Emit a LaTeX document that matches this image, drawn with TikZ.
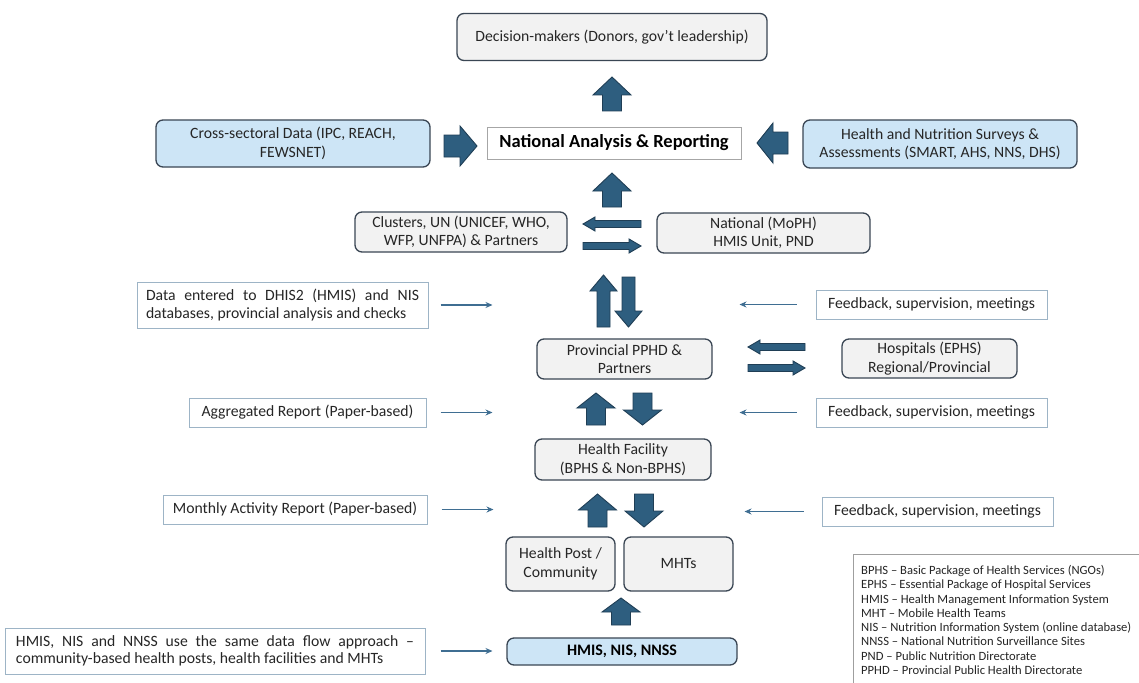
\documentclass[tikz,border=0pt]{standalone}
\usepackage{fontspec}
\setmainfont{Carlito}
\usetikzlibrary{arrows.meta}
\definecolor{bdr}{HTML}{3A4654}
\definecolor{gfill}{HTML}{F2F2F2}
\definecolor{bfill}{HTML}{CDE5F6}
\definecolor{afill}{HTML}{2E5E7F}
\definecolor{aline}{HTML}{1F3E55}
\definecolor{nline}{HTML}{9DB4C6}
\definecolor{tarr}{HTML}{3F6E92}
\definecolor{txt}{HTML}{262626}
\newcommand{\blkV}[6]{\path[blockarrow] ({#1-#6/2},#2) -- ({#1-#6/2},#3) -- ({#1-#5/2},#3) -- (#1,#4) -- ({#1+#5/2},#3) -- ({#1+#6/2},#3) -- ({#1+#6/2},#2) -- cycle;}
\newcommand{\blkH}[6]{\path[blockarrow] (#2,{#1-#6/2}) -- (#3,{#1-#6/2}) -- (#3,{#1-#5/2}) -- (#4,#1) -- (#3,{#1+#5/2}) -- (#3,{#1+#6/2}) -- (#2,{#1+#6/2}) -- cycle;}
\begin{document}
\begin{tikzpicture}[x=1pt,y=-1pt,
  box/.style={draw=bdr, line width=1.3pt, rounded corners=7pt, fill=gfill, text=txt, align=center, inner sep=0pt, font=\fontsize{15.7}{18.5}\selectfont},
  bluebox/.style={box, fill=bfill},
  notebox/.style={draw=nline, line width=1pt, fill=white, text=txt, align=left, inner sep=0pt, font=\fontsize{15.7}{17.5}\selectfont},
  blockarrow/.style={fill=afill, draw=aline, line width=0.9pt, line join=miter},
  thinarrow/.style={draw=tarr, line width=1.6pt, -{Stealth[length=7pt,width=6pt]}}]
\useasboundingbox (0,0) rectangle (1139,682);
\fill[white] (0,0) rectangle (1139,682);

% main boxes
\node[box, minimum width=310pt, minimum height=47pt] (dec) at (612,37) {Decision-makers (Donors, gov’t leadership)};
\node[draw=gray!70, line width=1pt, fill=white, minimum width=254pt, minimum height=32pt, inner sep=0pt, text=black, font=\bfseries\fontsize{18.5}{20}\selectfont] (nar) at (614,143) {National Analysis \& Reporting};
\node[bluebox, minimum width=274pt, minimum height=47pt] (cross) at (293,143.5) {Cross-sectoral Data (IPC, REACH,\\FEWSNET)};
\node[bluebox, minimum width=274pt, minimum height=48pt] (hns) at (940,144) {Health and Nutrition Surveys \&\\Assessments (SMART, AHS, NNS, DHS)};
\node[box, minimum width=212pt, minimum height=40pt] (clu) at (461,232) {Clusters, UN (UNICEF, WHO,\\WFP, UNFPA) \& Partners};
\node[box, minimum width=213pt, minimum height=40pt] (nat) at (763.5,233) {National (MoPH)\\HMIS Unit, PND};
\node[box, minimum width=175pt, minimum height=40pt] (pro) at (624.5,359) {Provincial PPHD \&\\Partners};
\node[box, minimum width=175pt, minimum height=39pt] (hos) at (929.5,358.5) {Hospitals (EPHS)\\Regional/Provincial};
\node[box, minimum width=176pt, minimum height=41pt] (hf) at (623,459.5) {Health Facility\\(BPHS \& Non-BPHS)};
\node[box, minimum width=109pt, minimum height=54pt] (hp) at (560.5,564) {Health Post /\\Community};
\node[box, minimum width=109pt, minimum height=54pt] (mht) at (678.5,564) {MHTs};
\node[bluebox, minimum width=230pt, minimum height=27pt, font=\bfseries\fontsize{16}{18}\selectfont, text=black] (hmis) at (622,651.5) {HMIS, NIS, NNSS};

% note boxes
\node[notebox, minimum width=291pt, minimum height=46pt] (data) at (282.5,305) {\makebox[273pt][s]{Data entered to DHIS2 (HMIS) and NIS}\\databases, provincial analysis and checks};
\node[notebox, minimum width=237pt, minimum height=29pt] (agg) at (307.5,412.5) {Aggregated Report (Paper-based)};
\node[notebox, minimum width=264pt, minimum height=29pt] (mon) at (295,509.5) {Monthly Activity Report (Paper-based)};
\node[notebox, minimum width=420pt, minimum height=46pt] (note) at (215,651) {\makebox[398pt][s]{HMIS, NIS and NNSS use the same data flow approach –}\\community-based health posts, health facilities and MHTs};
\node[notebox, minimum width=231pt, minimum height=29pt] (fb1) at (931.5,304.5) {Feedback, supervision, meetings};
\node[notebox, minimum width=231pt, minimum height=29pt] (fb2) at (931.5,412.5) {Feedback, supervision, meetings};
\node[notebox, minimum width=231pt, minimum height=29pt] (fb3) at (937.5,511.5) {Feedback, supervision, meetings};

% legend
\draw[draw=gray!75, line width=1pt, fill=white] (853,554) rectangle (1150,700);
\node[anchor=north west, align=left, inner sep=0pt, text=txt, font=\fontsize{12.6}{14.3}\selectfont] (leg) at (861,565) {BPHS – Basic Package of Health Services (NGOs)\\EPHS – Essential Package of Hospital Services\\HMIS – Health Management Information System\\MHT – Mobile Health Teams\\NIS – Nutrition Information System (online database)\\NNSS – National Nutrition Surveillance Sites\\PND – Public Nutrition Directorate\\PPHD – Provincial Public Health Directorate};

% block arrows
\blkV{612}{111}{95}{77}{38}{19}
\blkV{612}{207}{191}{173}{38}{19}
\blkH{146}{444}{460}{477}{40}{22}
\blkH{143}{788}{773}{757}{40}{22}
\blkH{224}{641}{595}{583}{14}{7}
\blkH{246}{583}{629}{641}{14}{7}
\blkV{603.5}{327}{291}{275}{27}{13}
\blkV{628.5}{277}{311}{327}{27}{13}
\blkH{347}{805}{760}{748}{14}{7}
\blkH{368}{748}{793}{805}{14}{7}
\blkV{596}{425}{408}{393}{38}{19}
\blkV{642.5}{393}{410}{425}{38}{19}
\blkV{597.5}{527}{510}{494}{38}{19}
\blkV{644}{494}{511}{527}{38}{19}
\blkV{621}{625}{612}{598}{38}{19}

% thin arrows
\draw[thinarrow] ([xshift=12pt]data.east) -- ++(52,0);
\draw[thinarrow] ([xshift=14pt]agg.east) -- ++(52,0);
\draw[thinarrow] ([xshift=14pt]mon.east) -- ++(52,0);
\draw[thinarrow] ([xshift=15pt]note.east) -- ++(52,0);
\draw[thinarrow] ([xshift=-19pt]fb1.west) -- ++(-57,0);
\draw[thinarrow] ([xshift=-19pt]fb2.west) -- ++(-57,0);
\draw[thinarrow] ([xshift=-18pt]fb3.west) -- ++(-59,0);
\end{tikzpicture}
\end{document}
